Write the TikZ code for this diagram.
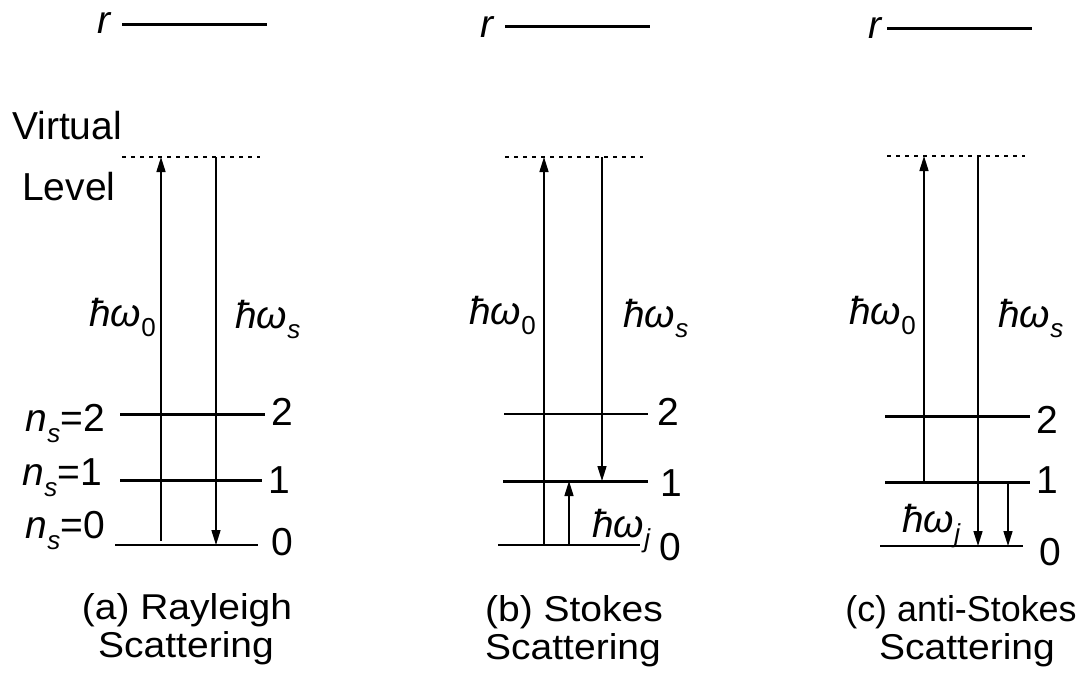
\documentclass[tikz,border=0pt]{standalone}
\usepackage{fontspec}
\usepackage{graphicx}
\setmainfont{Liberation Sans}
\usetikzlibrary{arrows.meta}
\newcommand\hbw[1]{\textit{ħω}\raisebox{-10pt}{\fontsize{26}{26}\selectfont #1}}
\newcommand\nsl[1]{\textit{n}\raisebox{-11pt}{\fontsize{26}{26}\selectfont\textit{s}}=#1}
\newcommand\capt[1]{\scalebox{1}[0.92]{#1}}
\begin{document}
\begin{tikzpicture}[x=1pt,y=-1pt,font=\fontsize{39}{40}\selectfont,
  lvl/.style={line width=3pt},
  arr/.style={line width=1.5pt,-{Triangle[length=15pt,width=9pt]}},
  vlev/.style={line width=2pt,dash pattern=on 4pt off 5pt},
  txt/.style={inner sep=0pt}]
\useasboundingbox (0,0) rectangle (1085,686);

% ---------------- panel (a) ----------------
\node[txt,anchor=base west] (ar) at (97,33) {\textit{r}};
\coordinate (ar1) at (122,24); \coordinate (ar2) at (267,24);
\draw[lvl] (ar1) -- (ar2);
\node[txt,anchor=base west] (avirt) at (12,139) {Virtual};
\node[txt,anchor=base west] (alev) at (22,200) {Level};
\coordinate (av1) at (122,157); \coordinate (av2) at (260,157);
\draw[vlev] (av1) -- (av2);
\coordinate (a2l) at (120,414); \coordinate (a2r) at (265,414);
\coordinate (a1l) at (120,480); \coordinate (a1r) at (262,480);
\coordinate (a0l) at (115,545); \coordinate (a0r) at (258,545);
\draw[lvl] (a2l) -- (a2r);
\draw[lvl] (a1l) -- (a1r);
\draw[lvl,line width=2.4pt] (a0l) -- (a0r);
\coordinate (aup0) at (161,541); \coordinate (aup1) at (161,157);
\coordinate (adn0) at (216,157); \coordinate (adn1) at (216,545);
\draw[arr] (aup0) -- (aup1);
\draw[arr] (adn0) -- (adn1);
\node[txt,anchor=base east] (aw0) at (156,326) {\hbw{0}};
\node[txt,anchor=base west] (aws) at (235,328) {\hbw{\textit{s}}};
\node[txt,anchor=base west] (an2) at (271,425) {2};
\node[txt,anchor=base west] (an1) at (268,493) {1};
\node[txt,anchor=base west] (an0) at (271,555) {0};
\node[txt,anchor=base east] (ans2) at (105,431) {\nsl{2}};
\node[txt,anchor=base east] (ans1) at (102,485) {\nsl{1}};
\node[txt,anchor=base east] (ans0) at (105,538) {\nsl{0}};
\node[txt,anchor=base] (acap1) at (187,619) {\capt{(a) Rayleigh}};
\node[txt,anchor=base] (acap2) at (186,657) {\capt{Scattering}};

% ---------------- panel (b) ----------------
\node[txt,anchor=base west] (br) at (480,37) {\textit{r}};
\coordinate (br1) at (505,26); \coordinate (br2) at (650,26);
\draw[lvl] (br1) -- (br2);
\coordinate (bv1) at (505,157); \coordinate (bv2) at (643,157);
\draw[vlev] (bv1) -- (bv2);
\coordinate (b2l) at (504,414); \coordinate (b2r) at (648,414);
\coordinate (b1l) at (503,481); \coordinate (b1r) at (648,481);
\coordinate (b0l) at (498,545); \coordinate (b0r) at (640,545);
\draw[lvl,line width=2.4pt] (b2l) -- (b2r);
\draw[lvl] (b1l) -- (b1r);
\draw[lvl,line width=2.4pt] (b0l) -- (b0r);
\coordinate (bup0) at (544,545); \coordinate (bup1) at (544,157);
\coordinate (bdn0) at (602,157); \coordinate (bdn1) at (602,481);
\coordinate (bj0) at (569,545); \coordinate (bj1) at (569,481);
\draw[arr] (bup0) -- (bup1);
\draw[arr] (bdn0) -- (bdn1);
\draw[arr] (bj0) -- (bj1);
\node[txt,anchor=base east] (bw0) at (536,324) {\hbw{0}};
\node[txt,anchor=base west] (bws) at (623,327) {\hbw{\textit{s}}};
\node[txt,anchor=base west] (bwj) at (592,537) {\hbw{\textit{j}}};
\node[txt,anchor=base west] (bn2) at (657,425) {2};
\node[txt,anchor=base west] (bn1) at (660,496) {1};
\node[txt,anchor=base west] (bn0) at (659,560) {0};
\node[txt,anchor=base] (bcap1) at (574,621) {\capt{(b) Stokes}};
\node[txt,anchor=base] (bcap2) at (573,659) {\capt{Scattering}};

% ---------------- panel (c) ----------------
\node[txt,anchor=base west] (cr) at (868,38) {\textit{r}};
\coordinate (cr1) at (887,28); \coordinate (cr2) at (1032,28);
\draw[lvl] (cr1) -- (cr2);
\coordinate (cv1) at (887,156); \coordinate (cv2) at (1025,156);
\draw[vlev] (cv1) -- (cv2);
\coordinate (c2l) at (885,416); \coordinate (c2r) at (1030,416);
\coordinate (c1l) at (885,482); \coordinate (c1r) at (1030,482);
\coordinate (c0l) at (880,546); \coordinate (c0r) at (1023,546);
\draw[lvl] (c2l) -- (c2r);
\draw[lvl] (c1l) -- (c1r);
\draw[lvl,line width=2.4pt] (c0l) -- (c0r);
\coordinate (cup0) at (924,482); \coordinate (cup1) at (924,156);
\coordinate (cdn0) at (978,156); \coordinate (cdn1) at (978,546);
\coordinate (cj0) at (1008,482); \coordinate (cj1) at (1008,546);
\draw[arr] (cup0) -- (cup1);
\draw[arr] (cdn0) -- (cdn1);
\draw[arr] (cj0) -- (cj1);
\node[txt,anchor=base east] (cw0) at (916,324) {\hbw{0}};
\node[txt,anchor=base west] (cws) at (998,327) {\hbw{\textit{s}}};
\node[txt,anchor=base west] (cwj) at (902,532) {\hbw{\textit{j}}};
\node[txt,anchor=base west] (cn2) at (1036,433) {2};
\node[txt,anchor=base west] (cn1) at (1036,493) {1};
\node[txt,anchor=base west] (cn0) at (1039,565) {0};
\node[txt,anchor=base] (ccap1) at (961,621) {\scalebox{0.92}[0.92]{(c) anti-Stokes}};
\node[txt,anchor=base] (ccap2) at (967,659) {\capt{Scattering}};
\end{tikzpicture}
\end{document}
